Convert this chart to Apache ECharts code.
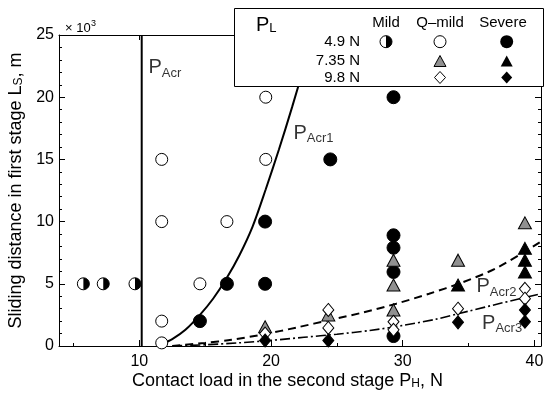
<!DOCTYPE html>
<html><head><meta charset="utf-8">
<script src="https://cdn.jsdelivr.net/npm/echarts@6/dist/echarts.min.js"></script>
<style>html,body{margin:0;padding:0;background:#fff}#c{width:546px;height:398px}</style>
</head><body><div id="c"></div>
<script>
// ---- data (x: contact load P_H [N], y: sliding distance L_S [x10^3 m]) ----
const xTickValues = [10, 20, 30, 40];
const xMinorTickValues = [5, 15, 25, 35];
const mild49    = [[5.75,5],[7.26,5],[9.67,5]];
const qmild49   = [[11.7,15],[11.7,10],[11.7,2],[11.7,0.25],[14.6,5],[16.65,10],[19.6,20],[19.6,15]];
const severe49  = [[14.6,2],[16.65,5],[19.55,10],[19.55,5],[24.5,15],[29.3,20],[29.3,8.9],[29.3,7.9],[29.3,5.95],[29.3,0.8]];
const qmild735  = [[19.55,1.55],[24.35,2.5],[29.3,6.9],[29.3,4.9],[29.3,2.9],[34.2,6.9],[39.28,9.9]];
const severe735 = [[34.2,4.9],[39.28,7.85],[39.28,6.9],[39.28,5.95]];
const qmild98   = [[19.55,1.0],[24.35,2.9],[24.35,1.45],[29.3,1.95],[29.3,1.3],[34.2,3.0],[39.28,4.6],[39.28,3.8]];
const severe98  = [[19.55,0.45],[24.35,0.45],[34.2,1.9],[39.28,2.9],[39.28,1.95]];
const pAcr  = [[10.18,0],[10.18,25]];
const pAcr1 = [[11.7,0.15],[12.5,0.55],[13.5,1.3],[14.6,2.5],[15.6,3.8],[16.6,5.4],[17.6,7.3],[18.6,9.6],[19.6,12.6],[20.6,15.8],[21.6,19.2],[22.6,22.8],[23.2,25]];
const pAcr2 = [[12.5,0],[15,0.25],[17,0.5],[19.5,0.95],[22,1.5],[24.5,2.1],[27,2.7],[29.5,3.4],[32,4.2],[34.5,5.1],[37,6.2],[39.3,7.6],[40.5,8.4]];
const pAcr3 = [[12.5,0],[15,0.1],[17.5,0.25],[20,0.45],[22.5,0.7],[25,0.95],[27.5,1.25],[30,1.65],[32.5,2.15],[35,2.8],[37.5,3.45],[40.5,4.2]];
const curveLabels = [[10.66,22.35,'Acr'],[21.67,17.1,'Acr1'],[35.56,4.77,'Acr2'],[35.99,1.82,'Acr3']];

const FONT = '"Liberation Sans", Arial, Helvetica, sans-serif';
const chart = echarts.init(document.getElementById('c'), null, {renderer:'canvas'});
const black = '#000';
const axisCommon = {
  axisLine:{show:true, onZero:false, lineStyle:{color:black, width:1}},
  splitLine:{show:false}
};
function sc(name, data, symbol, size, fill){
  return {type:'scatter', name, data, symbol, symbolSize:size, z:5,
    itemStyle:{color:fill, borderColor:black, borderWidth:1, opacity:1}};
}
function tri(cx, cy, w, h){ return [[cx, cy-h/2],[cx+w/2, cy+h/2],[cx-w/2, cy+h/2]]; }
function dia(cx, cy, w, h){ return [[cx, cy-h/2],[cx+w/2, cy],[cx, cy+h/2],[cx-w/2, cy]]; }
const G = [];
const gz = 100;
G.push({type:'rect', z:gz, shape:{x:234.5, y:8.5, width:309, height:78}, style:{fill:'#fff', stroke:black, lineWidth:1}});
G.push({type:'text', z:gz, x:256, y:25, style:{text:'P{s|L}', font:'20px '+FONT, fill:black, verticalAlign:'middle',
  rich:{s:{fontSize:13, fontFamily:FONT, verticalAlign:'bottom', lineHeight:13, fill:black}}}});
[['Mild',386],['Q\u2013mild',440],['Severe',503]].forEach(([t,x])=>G.push({type:'text', z:gz, x, y:23,
  style:{text:t, font:'15px '+FONT, fill:black, align:'center', verticalAlign:'middle'}}));
[['4.9 N',41.7],['7.35 N',61],['9.8 N',77.5]].forEach(([t,y])=>G.push({type:'text', z:gz, x:360, y,
  style:{text:t, font:'15px '+FONT, fill:black, align:'right', verticalAlign:'middle'}}));
G.push({type:'circle', z:gz, shape:{cx:386, cy:41.7, r:6}, style:{fill:'#fff', stroke:black, lineWidth:1}});
G.push({type:'sector', z:gz, shape:{cx:386, cy:41.7, r0:0, r:6, startAngle:-Math.PI/2, endAngle:Math.PI/2, clockwise:true}, style:{fill:black}});
G.push({type:'circle', z:gz, shape:{cx:440, cy:41.7, r:6}, style:{fill:'#fff', stroke:black, lineWidth:1}});
G.push({type:'circle', z:gz, shape:{cx:506.7, cy:41.7, r:6.5}, style:{fill:black}});
G.push({type:'polygon', z:gz, shape:{points:tri(440,61,12,11)}, style:{fill:'#909090', stroke:black, lineWidth:1}});
G.push({type:'polygon', z:gz, shape:{points:tri(506.7,61,12,11)}, style:{fill:black}});
G.push({type:'polygon', z:gz, shape:{points:dia(440,77.5,11,12)}, style:{fill:'#fff', stroke:black, lineWidth:1}});
G.push({type:'polygon', z:gz, shape:{points:dia(506.7,77.5,11,12)}, style:{fill:black}});
G.push({type:'text', z:gz, x:65, y:28, style:{text:'\u00d7 10', font:'13px '+FONT, fill:black, verticalAlign:'middle'}});
G.push({type:'text', z:gz, x:91, y:24, style:{text:'3', font:'9px '+FONT, fill:black, verticalAlign:'middle'}});

const option = {
  backgroundColor:'#fff',
  animation:false,
  textStyle:{fontFamily:FONT, color:black},
  grid:{left:59, right:5, top:35, bottom:52, containLabel:false, outerBoundsMode:'none'},
  xAxis:[
    Object.assign({type:'value', position:'bottom', min:3.9, max:40.5,
      axisTick:{show:true, inside:true, length:6, customValues:xTickValues, lineStyle:{color:black}},
      axisLabel:{show:true, customValues:xTickValues, hideOverlap:false, fontSize:16, color:black, fontFamily:FONT, margin:8},
      name:'Contact load in the second stage P{s|H}, N', nameLocation:'middle', nameGap:26, nameMoveOverlap:false,
      nameTextStyle:{fontSize:18, color:black, fontFamily:FONT, padding:[0,25,0,0],
        rich:{s:{fontSize:12, fontFamily:FONT, verticalAlign:'bottom', lineHeight:12}}}
    }, axisCommon),
    Object.assign({type:'value', position:'bottom', min:3.9, max:40.5,
      axisTick:{show:true, inside:true, length:3, customValues:xMinorTickValues, lineStyle:{color:black}},
      axisLabel:{show:false}}, axisCommon, {axisLine:{show:false}}),
    Object.assign({type:'value', position:'top', min:3.9, max:40.5,
      axisTick:{show:true, inside:true, length:5, customValues:xTickValues, lineStyle:{color:black}},
      axisLabel:{show:false}}, axisCommon)
  ],
  yAxis:[
    Object.assign({type:'value', position:'left', min:0, max:25, interval:5,
      axisTick:{show:true, inside:true, length:6, lineStyle:{color:black}},
      minorTick:{show:true, splitNumber:5, length:3, lineStyle:{color:black}},
      minorSplitLine:{show:false},
      axisLabel:{fontSize:16, color:black, fontFamily:FONT, margin:5},
      name:'Sliding distance in first stage L{s|S}, m', nameLocation:'middle', nameRotate:90, nameGap:34,
      nameTextStyle:{fontSize:18, color:black, fontFamily:FONT,
        rich:{s:{fontSize:12, fontFamily:FONT, verticalAlign:'bottom', lineHeight:12}}}
    }, axisCommon),
    Object.assign({type:'value', position:'right', min:0, max:25, interval:5,
      axisTick:{show:true, inside:true, length:6, lineStyle:{color:black}},
      minorTick:{show:true, splitNumber:5, length:3, lineStyle:{color:black}},
      axisLabel:{show:false}}, axisCommon)
  ],
  series:[
    {type:'line', data:pAcr, symbol:'none', z:3, lineStyle:{color:black, width:2}},
    {type:'line', data:pAcr1, symbol:'none', smooth:0.3, z:3, lineStyle:{color:black, width:2}},
    {type:'line', data:pAcr2, symbol:'none', smooth:0.3, z:3, lineStyle:{color:black, width:2, type:[8,5]}},
    {type:'line', data:pAcr3, symbol:'none', smooth:0.3, z:3, lineStyle:{color:black, width:1.6, type:[10,3,2,3]}},
    sc('severe49', severe49, 'circle', 13, black),
    sc('qmild49', qmild49, 'circle', 12, '#fff'),
    sc('qmild735', qmild735, 'triangle', [13,12], '#909090'),
    sc('severe735', severe735, 'triangle', [13,12], black),
    sc('qmild98', qmild98, 'diamond', [11,13], '#fff'),
    sc('severe98', severe98, 'diamond', [11,13], black),
    {type:'custom', data:mild49, z:5, encode:{x:0, y:1},
      renderItem:(params, api)=>{
        const p = api.coord([api.value(0), api.value(1)]);
        const r = 6;
        return {type:'group', children:[
          {type:'circle', shape:{cx:p[0], cy:p[1], r}, style:{fill:'#fff', stroke:black, lineWidth:1}},
          {type:'sector', shape:{cx:p[0], cy:p[1], r0:0, r, startAngle:-Math.PI/2, endAngle:Math.PI/2, clockwise:true}, style:{fill:black}}
        ]};
      }},
    {type:'scatter', data:curveLabels, symbolSize:1, z:6, itemStyle:{color:'transparent'}, silent:true,
      label:{show:true, position:'right', distance:0, color:black,
        formatter:(p)=>'{p|P}{s|'+p.data[2]+'}',
        rich:{p:{fontSize:20, fontFamily:FONT, lineHeight:24, color:black},
              s:{fontSize:13, fontFamily:FONT, verticalAlign:'bottom', lineHeight:13, color:black}}}}
  ],
  graphic:G
};
chart.setOption(option);
</script></body></html>
